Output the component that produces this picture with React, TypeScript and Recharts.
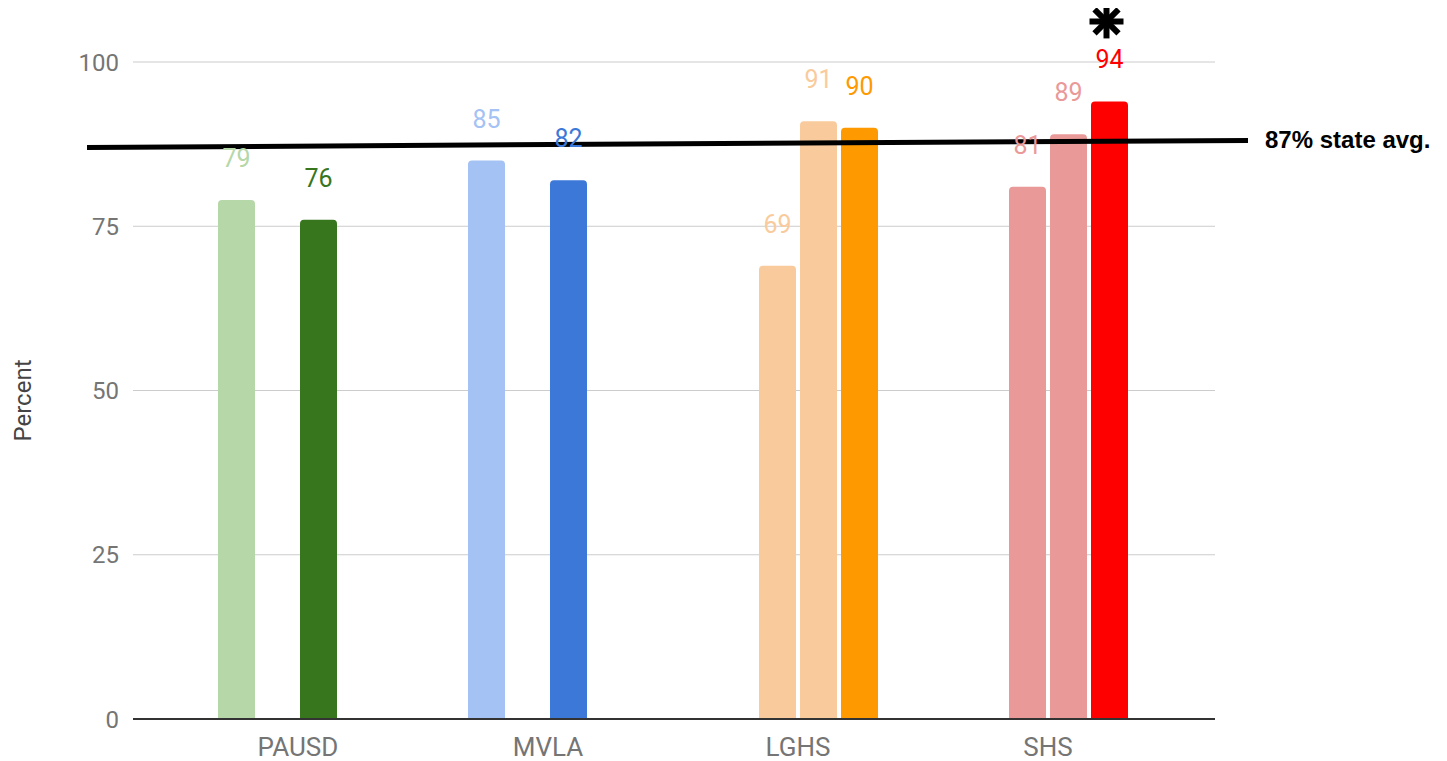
import React from 'react';
import {
  BarChart,
  Bar,
  Cell,
  XAxis,
  YAxis,
  CartesianGrid,
  LabelList,
  ReferenceLine,
} from 'recharts';

const categories = ['PAUSD', 'MVLA', 'LGHS', 'SHS'];
const seriesA = [79, 85, null, null];
const seriesB = [null, null, 69, 81];
const seriesC = [76, 82, 91, 89];
const seriesD = [null, null, 90, 94];
const yTicks = [0, 25, 50, 75, 100];
const stateAvg = 87;
const starred = 'SHS';

const colorsA = ['#b6d7a8', '#a4c2f4', '#f9cb9c', '#ea9999'];
const colorsB = ['#b6d7a8', '#a4c2f4', '#f9cb9c', '#ea9999'];
const colorsC = ['#38761d', '#3c78d8', '#f9cb9c', '#ea9999'];
const colorsD = ['#38761d', '#3c78d8', '#ff9900', '#ff0000'];

const data = categories.map((name, i) => ({
  name,
  a: seriesA[i],
  b: seriesB[i],
  c: seriesC[i],
  d: seriesD[i],
}));

const series = [
  { key: 'a', colors: colorsA, star: false },
  { key: 'b', colors: colorsB, star: false },
  { key: 'c', colors: colorsC, star: false },
  { key: 'd', colors: colorsD, star: true },
];

const GRAY = '#757575';

// bold 8-spoke asterisk drawn above the starred bar
const Star = ({ cx, cy }: { cx: number; cy: number }) => (
  <g stroke="#000" strokeWidth={6}>
    {[0, 45, 90, 135].map((a) => {
      const r = 17;
      const dx = r * Math.cos((a * Math.PI) / 180);
      const dy = r * Math.sin((a * Math.PI) / 180);
      return <line key={a} x1={cx - dx} y1={cy - dy} x2={cx + dx} y2={cy + dy} />;
    })}
  </g>
);

const makeLabel = (colors: string[], star: boolean) => (props: any) => {
  const { x, y, width, value } = props;
  if (!value || value.v == null) return null;
  const i = categories.indexOf(value.name);
  const cx = Number(x) + Number(width) / 2;
  return (
    <g>
      <text
        x={cx}
        y={Number(y) - 33}
        textAnchor="middle"
        fill={colors[i]}
        fontSize={25}
        fontFamily="Roboto"
      >
        {value.v}
      </text>
      {star && value.name === starred && <Star cx={cx - 3} cy={Number(y) - 80} />}
    </g>
  );
};

const AvgLine = (p: any) => (
  <g>
    <line
      x1={p.x1 - 46}
      y1={p.y1}
      x2={p.x2 + 33}
      y2={p.y2 - 7}
      stroke="#000"
      strokeWidth={5}
    />
    <text
      x={p.x2 + 50}
      y={p.y2 - 7 + 8}
      fontSize={24}
      fontWeight="bold"
      fontFamily="Liberation Sans, Arial"
      fill="#000"
    >
      {`${stateAvg}% state avg.`}
    </text>
  </g>
);

const App: React.FC = () => (
  <BarChart
    width={1439}
    height={753}
    data={data}
    margin={{ top: 54, right: 232, bottom: 0, left: 0 }}
    barSize={37}
    barGap={4}
    barCategoryGap={45}
  >
    <CartesianGrid vertical={false} stroke="#cccccc" />
    <XAxis
      dataKey="name"
      height={42}
      padding={{ left: 40, right: 42 }}
      tickLine={false}
      tickMargin={13}
      axisLine={{ stroke: '#333333', strokeWidth: 2 }}
      tick={{ fill: GRAY, fontSize: 26, fontFamily: 'Roboto' }}
    />
    <YAxis
      width={125}
      domain={[0, 100]}
      ticks={yTicks}
      axisLine={false}
      tickLine={false}
      tickMargin={8}
      tick={{ fill: GRAY, fontSize: 24, fontFamily: 'Roboto' }}
      label={{
        content: (props: any) => {
          const vb = props.viewBox || {};
          const lx = vb.x + 15;
          const ly = vb.y + vb.height / 2 + 10;
          return (
            <text
              x={lx}
              y={ly}
              transform={`rotate(-90 ${lx} ${ly})`}
              textAnchor="middle"
              dominantBaseline="central"
              fontSize={24}
              fontFamily="Roboto"
              fill="#444444"
            >
              Percent
            </text>
          );
        },
      }}
    />
    {series.map((s) => (
      <Bar
        key={s.key}
        dataKey={s.key}
        isAnimationActive={false}
        radius={[4, 4, 0, 0]}
      >
        {data.map((_, i) => (
          <Cell key={`cell-${s.key}-${i}`} fill={s.colors[i]} />
        ))}
        <LabelList
          dataKey={(d: any) => ({ v: d[s.key], name: d.name })}
          content={makeLabel(s.colors, s.star)}
        />
      </Bar>
    ))}
    <ReferenceLine y={stateAvg} ifOverflow="visible" shape={AvgLine} />
  </BarChart>
);

export default App;
